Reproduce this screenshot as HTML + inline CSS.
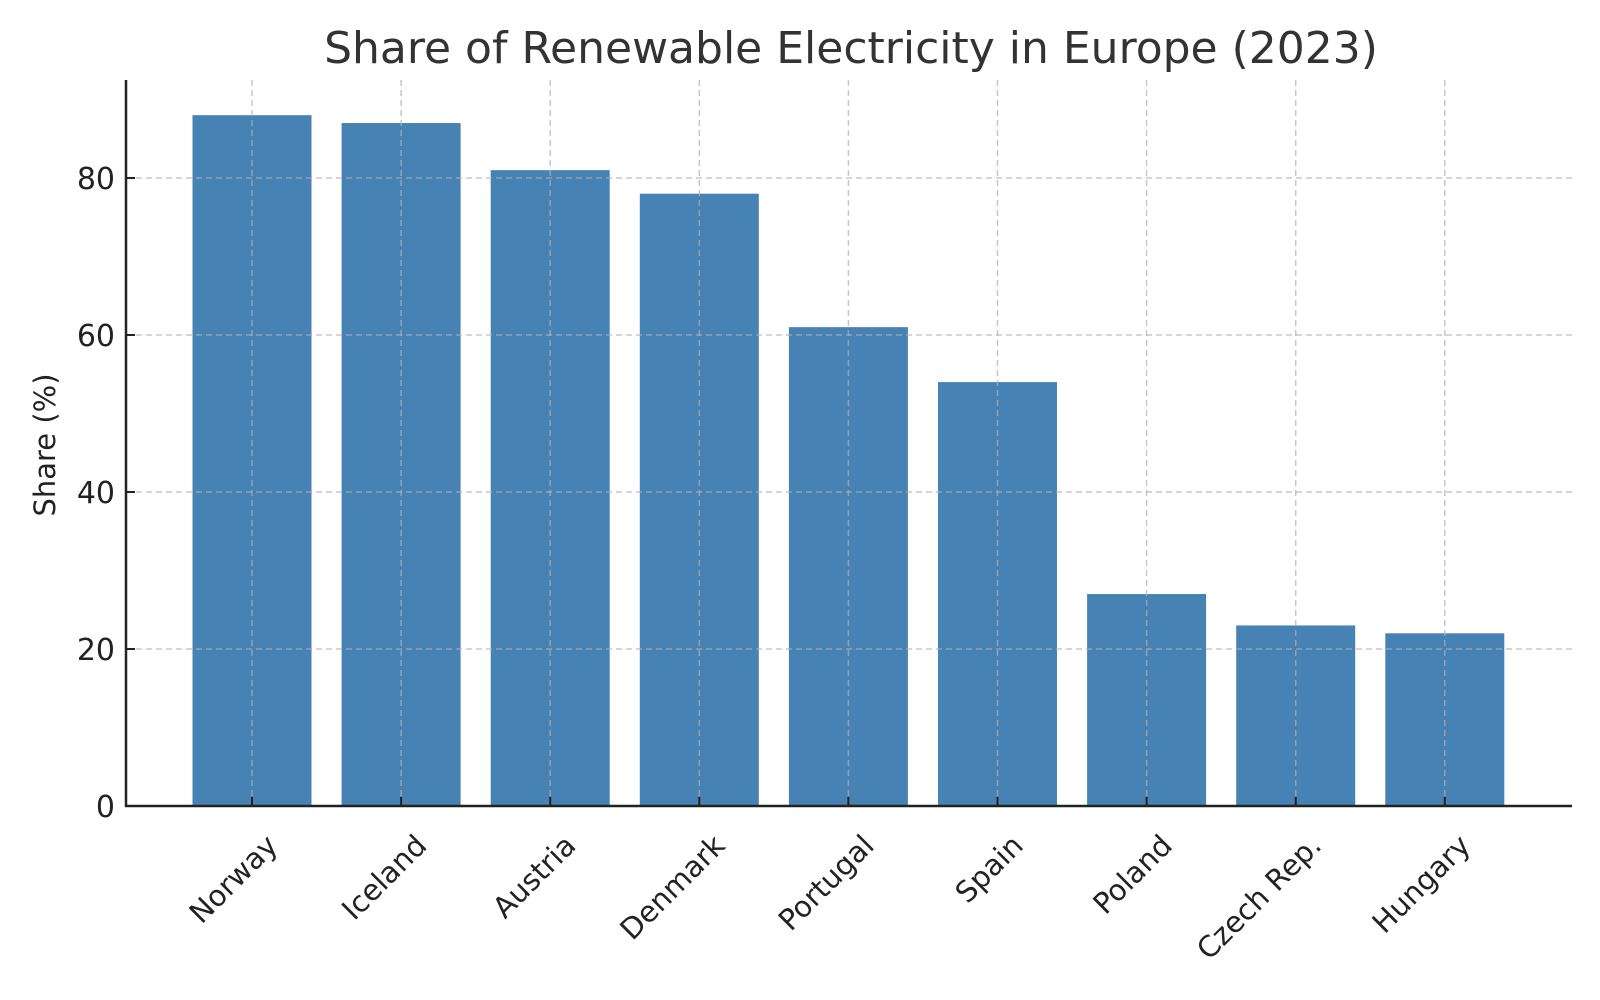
<!DOCTYPE html>
<html><head><meta charset="utf-8"><style>
html,body{margin:0;padding:0;background:#fff;}
svg{display:block;font-family:"DejaVu Sans","Liberation Sans",sans-serif;}
</style></head><body>
<svg id="chart" width="1600" height="1000" viewBox="0 0 1600 1000">
<text x="851" y="63" font-size="44" fill="#333" text-anchor="middle">Share of Renewable Electricity in Europe (2023)</text>
<text transform="translate(55,445) rotate(-90)" font-size="29" fill="#222" text-anchor="middle">Share (%)</text>
<g id="bars"></g><g id="grid"></g><g id="axes"></g>
</svg>
<script>
const categories=["Norway","Iceland","Austria","Denmark","Portugal","Spain","Poland","Czech Rep.","Hungary"];
const values=[88,87,81,78,61,54,27,23,22];
const yTicks=[0,20,40,60,80];
const NS="http://www.w3.org/2000/svg";
const L=126,R=1572,T=80,B=806;
function x(i){return 252+i*149.1;}
function y(v){return B-v*7.85;}
function mk(tag,attrs,parent,text){const e=document.createElementNS(NS,tag);for(const k in attrs)e.setAttribute(k,attrs[k]);if(text!==undefined)e.textContent=text;parent.appendChild(e);return e;}
const bars=document.getElementById('bars'),grid=document.getElementById('grid'),axes=document.getElementById('axes');
const bw=119;
values.forEach((v,i)=>{
  const r=mk('rect',{x:x(i)-bw/2,y:y(v),width:bw,height:B-y(v),fill:'#4682b4'},bars);
  
  
  const g=mk('line',{x1:x(i),x2:x(i),y1:T,y2:B,stroke:'#b0b0b0','stroke-opacity':0.7,'stroke-dasharray':'6,4','stroke-width':1.5},grid);
  
  
  const tk=mk('line',{x1:x(i),x2:x(i),y1:B,y2:B-9,stroke:'#222','stroke-width':2},axes);
  
  
  const t=mk('text',{transform:`translate(${x(i)+12},${B+26}) rotate(-45)`,'font-size':29,fill:'#222','text-anchor':'end','dominant-baseline':'hanging'},axes,categories[i]);
  
  
});
yTicks.forEach(v=>{
  if(v>0){const g=mk('line',{x1:L,x2:R,y1:y(v),y2:y(v),stroke:'#b0b0b0','stroke-opacity':0.7,'stroke-dasharray':'6,4','stroke-width':1.5},grid);
  
  }
  const tk=mk('line',{x1:L,x2:L+9,y1:y(v),y2:y(v),stroke:'#222','stroke-width':2},axes);
  
  
  const t=mk('text',{x:L-11,y:y(v)+11,'font-size':30,fill:'#222','text-anchor':'end'},axes,String(v));
  
  
});
const ya=mk('line',{x1:L,x2:L,y1:T,y2:B+1,stroke:'#222','stroke-width':2.5},axes);


const xa=mk('line',{x1:L-1,x2:R,y1:B,y2:B,stroke:'#222','stroke-width':2.5},axes);


</script>
</body></html>
